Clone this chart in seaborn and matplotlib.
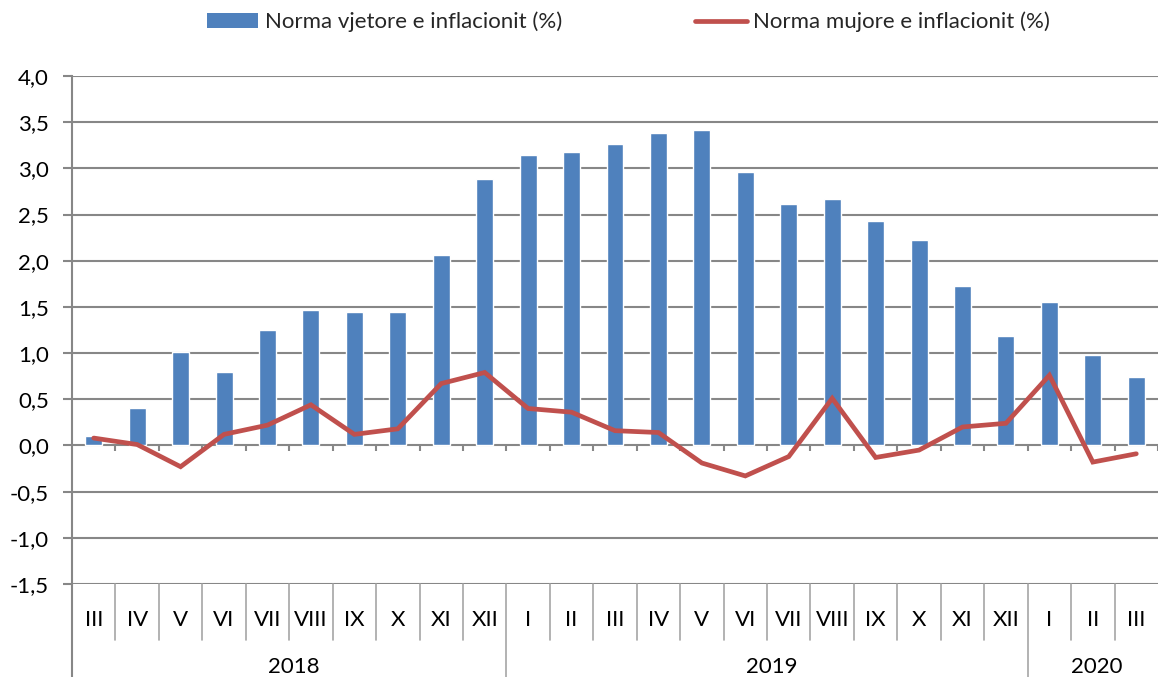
import numpy as np
import pandas as pd
import matplotlib
matplotlib.use("Agg")
import matplotlib.pyplot as plt
import matplotlib.transforms as mtransforms
from matplotlib.lines import Line2D
from matplotlib.patches import Patch
import seaborn as sns

months = ["III", "IV", "V", "VI", "VII", "VIII", "IX", "X", "XI", "XII",
          "I", "II", "III", "IV", "V", "VI", "VII", "VIII", "IX", "X", "XI", "XII",
          "I", "II", "III"]
years = ["2018"] * 10 + ["2019"] * 12 + ["2020"] * 3
annual = [0.10, 0.41, 1.01, 0.79, 1.25, 1.47, 1.45, 1.45, 2.06, 2.89,
          3.14, 3.18, 3.26, 3.38, 3.42, 2.96, 2.61, 2.67, 2.43, 2.22, 1.73, 1.18,
          1.55, 0.98, 0.74]
monthly = [0.08, 0.01, -0.23, 0.12, 0.22, 0.44, 0.12, 0.18, 0.67, 0.79,
           0.40, 0.36, 0.16, 0.14, -0.19, -0.33, -0.12, 0.51, -0.13, -0.05, 0.20, 0.24,
           0.76, -0.18, -0.09]
yticks = [-1.5, -1.0, -0.5, 0.0, 0.5, 1.0, 1.5, 2.0, 2.5, 3.0, 3.5, 4.0]

label_bar = "Norma vjetore e inflacionit (%)"
label_line = "Norma mujore e inflacionit (%)"

df = pd.DataFrame({"month": months, "year": years, "annual": annual, "monthly": monthly})
df["key"] = df["month"] + "-" + df["year"]
df["idx"] = np.arange(len(df))

sns.set_theme(style="white")
plt.rcParams["font.family"] = ["Lato", "DejaVu Sans"]

BAR = "#4F81BD"
LINE = "#C0504D"
GRID = "#878787"
TXT = "#000000"
FS = 16

fig = plt.figure(figsize=(11.64, 6.77), dpi=100)
ax = fig.add_axes([72 / 1164, 1 - 584 / 677, (1158 - 72) / 1164, (584 - 76) / 677])

sns.barplot(data=df, x="key", y="annual", order=list(df["key"]), color=BAR,
            width=0.39, saturation=1, ax=ax, zorder=3)
sns.lineplot(data=df, x="idx", y="monthly", color=LINE, linewidth=3.4, ax=ax,
             zorder=4, solid_joinstyle="miter")

ax.set_xlim(-0.5, len(df) - 0.5)
ax.set_ylim(-1.5, 4.0)
ax.set_yticks(yticks)
ax.set_yticklabels([f"{v:.1f}".replace(".", ",") for v in yticks], fontsize=FS, color=TXT)
ax.yaxis.grid(True, color=GRID, linewidth=1.5, zorder=0)
ax.set_axisbelow(True)
ax.tick_params(axis="y", length=6.5, width=1.5, color=GRID, pad=10, left=True)
ax.set_xticks([])
ax.set_xlabel("")
ax.set_ylabel("")
for s in ["top", "right", "bottom"]:
    ax.spines[s].set_visible(False)
ax.spines["left"].set_color(GRID)
ax.spines["left"].set_linewidth(1.5)

n = len(df)
# zero-line ticks
ax.vlines(np.arange(n) + 0.5, -0.055, 0, color=GRID, linewidth=1.5, zorder=2)

trans = mtransforms.blended_transform_factory(ax.transData, ax.transAxes)
h = 584 - 76
for i in range(1, n):
    if df["year"][i] != df["year"][i - 1]:
        bottom = -(677 - 584) / h - 0.01
    else:
        bottom = -(640 - 584) / h
    ax.add_line(Line2D([i - 0.5, i - 0.5], [0, bottom], transform=trans,
                       color="#A6A6A6", linewidth=1.2, clip_on=False))
ax.add_line(Line2D([-0.5, -0.5], [0, -(677 - 584) / h - 0.01], transform=trans,
                   color=GRID, linewidth=1.5, clip_on=False))

for i, m in enumerate(months):
    ax.text(i, -(620 - 584) / h, m, transform=trans, ha="center", va="center",
            fontsize=FS, color=TXT)

for y in df["year"].unique():
    sub = df[df["year"] == y]["idx"]
    ax.text((sub.min() + sub.max()) / 2 + 0.1, -(667 - 584) / h, y, transform=trans,
            ha="center", va="center", fontsize=FS, color=TXT)

handles = [Patch(facecolor=BAR, edgecolor="none"),
           Line2D([0], [0], color=LINE, linewidth=3.4)]
fig.legend(handles, [label_bar, label_line], loc="center", bbox_to_anchor=(0.540, 1 - 22 / 677),
           ncol=2, frameon=False, fontsize=FS, handlelength=2.3, handletextpad=0.3,
           columnspacing=6.0, handleheight=0.64, borderaxespad=0, borderpad=0)

fig.savefig("out.png", dpi=100)
